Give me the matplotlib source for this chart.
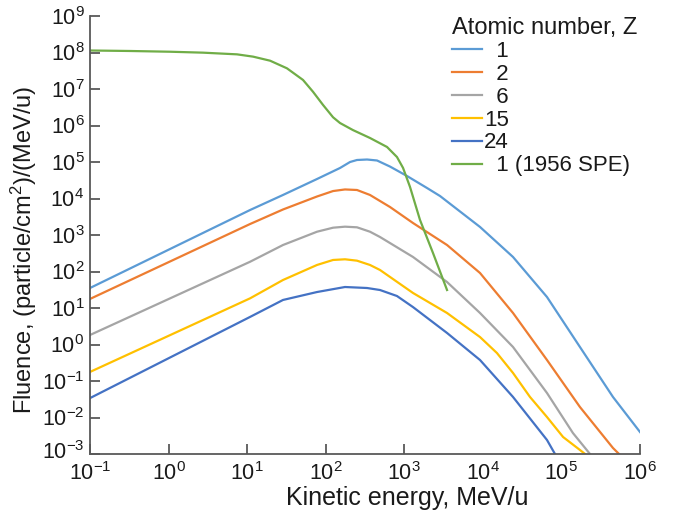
import numpy as np
import matplotlib
matplotlib.use("Agg")
from matplotlib import pyplot as plt
from matplotlib.transforms import ScaledTranslation

plt.rcParams['font.family'] = ['Liberation Sans', 'DejaVu Sans']
plt.rcParams['mathtext.fontset'] = 'custom'
plt.rcParams['mathtext.rm'] = 'Liberation Sans'
plt.rcParams['mathtext.it'] = 'Liberation Sans:italic'
plt.rcParams['mathtext.bf'] = 'Liberation Sans:bold'

# kinetic energy (MeV/u) and fluence, one pair of lists per curve
e_z1 = [0.1, 10.9, 28.6, 77.5, 152, 204, 250, 336, 450, 658, 1084, 1946, 2850,
        9200, 24200, 65500, 172000, 453000, 1e6]
f_z1 = [35.3, 4840, 1.25e4, 3.42e4, 6.85e4, 1.0e5, 1.135e5, 1.17e5, 1.1e5, 7.5e4, 4.13e4, 1.94e4, 1.17e4,
        1660, 250, 20, 0.855, 0.0365, 0.004]

e_z2 = [0.1, 10.9, 28.6, 77.5, 124, 176, 250, 366, 658, 1291, 3500, 9200, 24200,
        65500, 172000, 453000, 541000]
f_z2 = [17.7, 2000, 5000, 1.135e4, 1.6e4, 1.77e4, 1.71e4, 1.25e4, 5850, 2130, 532, 91, 7.3,
        0.376, 0.0194, 0.00146, 1e-3]

e_z6 = [0.1, 10.9, 28.6, 77.5, 124, 176, 250, 366, 491, 1291, 3500, 9200, 24200,
        65500, 140000, 231000]
f_z6 = [1.82, 185, 532, 1230, 1585, 1690, 1625, 1230, 881, 250, 51.5, 7.3, 0.855,
        0.0469, 0.00376, 1e-3]

e_z15 = [0.1, 10.9, 28.6, 77.5, 124, 176, 250, 366, 491, 1291, 3500, 9200, 15100,
         24200, 39800, 65500, 105000, 172000, 200000]
f_z15 = [0.177, 18.4, 58.5, 151, 207, 216, 198, 151, 110, 25.8, 7.3, 1.6, 0.585,
         0.166, 0.0365, 0.0103, 0.00292, 0.00129, 1e-3]

e_z24 = [0.1, 10.9, 28.6, 77.5, 176, 336, 491, 807, 1291, 3500, 9200, 24200, 65500, 82800]
f_z24 = [0.034, 5.7, 16.6, 27.4, 37.6, 35.3, 31.1, 21.3, 10.6, 2.07, 0.376, 0.0365, 0.00242, 1e-3]

e_spe = [0.1, 0.323, 1.04, 2.74, 7.43, 11.9, 19.6, 32.1, 51.4, 68.9, 92.5, 124, 152,
         222, 366, 603, 807, 964, 1183, 1585, 2320, 3500]
f_spe = [1.135e8, 1.10e8, 1.05e8, 9.9e7, 8.9e7, 7.7e7, 5.96e7, 3.69e7, 1.77e7, 8.4e6, 3.65e6, 1.68e6, 1.17e6,
         7.5e5, 4.55e5, 2.58e5, 1.37e5, 6.9e4, 2.07e4, 2.58e3, 321, 31.1]

labels = ['  1', '  2', '  6', '15', '24', '  1 (1956 SPE)']
colors = ['#5B9BD5', '#ED7D31', '#A5A5A5', '#FFC000', '#4472C4', '#70AD47']

series = [(e_z1, f_z1), (e_z2, f_z2), (e_z6, f_z6), (e_z15, f_z15), (e_z24, f_z24), (e_spe, f_spe)]

fig = plt.figure(figsize=(6.73, 5.13), dpi=100)
ax = fig.add_axes([90/673, 1-454/513, 550/673, 438/513])

for (e, f), lab, c in zip(series, labels, colors):
    ax.plot(e, f, color=c, lw=1.6, label=lab, solid_joinstyle='round')

ax.set_xscale('log')
ax.set_yscale('log')
ax.set_xlim(0.1, 1e6)
ax.set_ylim(1e-3, 1e9)
ax.set_xticks([10.0**k for k in range(-1, 7)])
ax.set_yticks([10.0**k for k in range(-3, 10)])
ax.minorticks_off()

axis_col = '#595959'
for s in ['top', 'right']:
    ax.spines[s].set_visible(False)
for s in ['left', 'bottom']:
    ax.spines[s].set_color(axis_col)
    ax.spines[s].set_linewidth(1.3)
ax.tick_params(axis='both', direction='in', length=7, width=1.3, color=axis_col,
               labelsize=15.5, labelcolor='#1a1a1a')
ax.tick_params(axis='y', pad=4)
ax.tick_params(axis='x', pad=6)
# the reference has no tick marks at 10^4 and 10^5
for t in ax.xaxis.get_major_ticks()[5:7]:
    t.tick1line.set_visible(False)
# lift the lowest y label a little so it clears the 10^-1 label below it
lab0 = ax.yaxis.get_major_ticks()[0].label1
lab0.set_transform(lab0.get_transform() + ScaledTranslation(0, 0.04, fig.dpi_scale_trans))

ax.set_xlabel('Kinetic energy, MeV/u', fontsize=18, color='#1a1a1a')
ax.xaxis.set_label_coords((407-90)/550, (454-486)/438)
ax.set_ylabel('Fluence, (particle/cm$^2$)/(MeV/u)', fontsize=17, color='#1a1a1a')
ax.yaxis.set_label_coords((39-90)/550, (454-250)/438)

leg = ax.legend(loc='upper left', bbox_to_anchor=(452/673, 1-17/513),
                bbox_transform=fig.transFigure, frameon=False,
                title='Atomic number, Z', title_fontsize=17, fontsize=16,
                handlelength=1.35, handletextpad=0.1, labelspacing=0.085,
                borderpad=0, borderaxespad=0)
leg._legend_box.align = 'left'
for t in leg.get_texts():
    t.set_color('#1a1a1a')
leg.get_title().set_color('#1a1a1a')

fig.savefig('out.png', dpi=100)
